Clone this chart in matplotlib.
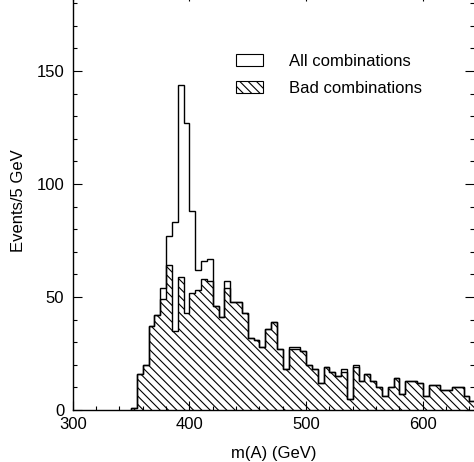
import numpy as np
import matplotlib
matplotlib.use('Agg')
from matplotlib import pyplot as plt
from matplotlib.patches import Patch
from matplotlib.ticker import MultipleLocator

# m(A) histogram, 5 GeV bins starting at 350 GeV
edges = np.arange(350, 650, 5)
all_comb = [1, 16, 20, 37, 42, 54, 77, 83, 144, 127,
            88, 62, 66, 67, 46, 41, 57, 48, 48, 43,
            32, 31, 28, 36, 39, 27, 18, 28, 28, 26,
            20, 18, 12, 19, 17, 15, 18, 5, 20, 13,
            16, 13, 10, 6, 10, 14, 7, 13, 13, 12,
            6, 11, 11, 9, 9, 10, 10, 6, 4]
bad_comb = [1, 16, 20, 37, 42, 49, 64, 35, 59, 43,
            52, 53, 58, 57, 46, 41, 54, 48, 48, 43,
            32, 31, 28, 36, 39, 27, 18, 27, 27, 26,
            20, 18, 12, 19, 17, 15, 17, 5, 19, 13,
            16, 13, 10, 6, 10, 14, 7, 13, 13, 12,
            6, 11, 11, 9, 9, 10, 10, 6, 4]
labels = ['All combinations', 'Bad combinations']

plt.rcParams['font.family'] = ['Liberation Sans', 'DejaVu Sans']
plt.rcParams['hatch.linewidth'] = 0.8

fig = plt.figure(figsize=(4.74, 4.62), dpi=100)
ax = fig.add_axes([72.7/474, 52/462, (474-72.7)/474, 418/462])

ax.stairs(bad_comb, edges, fill=True, facecolor='white', edgecolor='black',
          hatch='\\\\\\\\', linewidth=1.0)
ax.stairs(all_comb, edges, color='black', linewidth=1.0)

ax.set_xlim(300, 644)
ax.set_ylim(0, 185)

ax.xaxis.set_major_locator(MultipleLocator(100))
ax.xaxis.set_minor_locator(MultipleLocator(20))
ax.yaxis.set_major_locator(MultipleLocator(50))
ax.yaxis.set_minor_locator(MultipleLocator(10))
ax.tick_params(which='both', direction='in', top=True, right=True,
               width=0.8, labelsize=12)
ax.tick_params(which='major', length=6.5)
ax.tick_params(which='minor', length=3.2)
ax.tick_params(axis='x', pad=5)
ax.tick_params(axis='y', pad=6)
ax.spines['right'].set_visible(False)
ax.spines['top'].set_visible(False)
for s in ['left', 'bottom']:
    ax.spines[s].set_linewidth(1.0)

ax.set_xlabel('m(A) (GeV)', fontsize=12, labelpad=10)
ax.set_ylabel('Events/5 GeV', fontsize=12, labelpad=8)

handles = [Patch(facecolor='white', edgecolor='black', linewidth=0.8),
           Patch(facecolor='white', edgecolor='black', linewidth=0.8, hatch='\\\\\\\\')]
ax.legend(handles, labels, loc='upper left', frameon=False, fontsize=12,
          bbox_to_anchor=(236/474, 1 - 54/462), bbox_transform=fig.transFigure,
          borderpad=0, borderaxespad=0, handlelength=1.6, handleheight=0.72,
          handletextpad=1.6, labelspacing=0.72)

fig.savefig('out.png', dpi=100)
